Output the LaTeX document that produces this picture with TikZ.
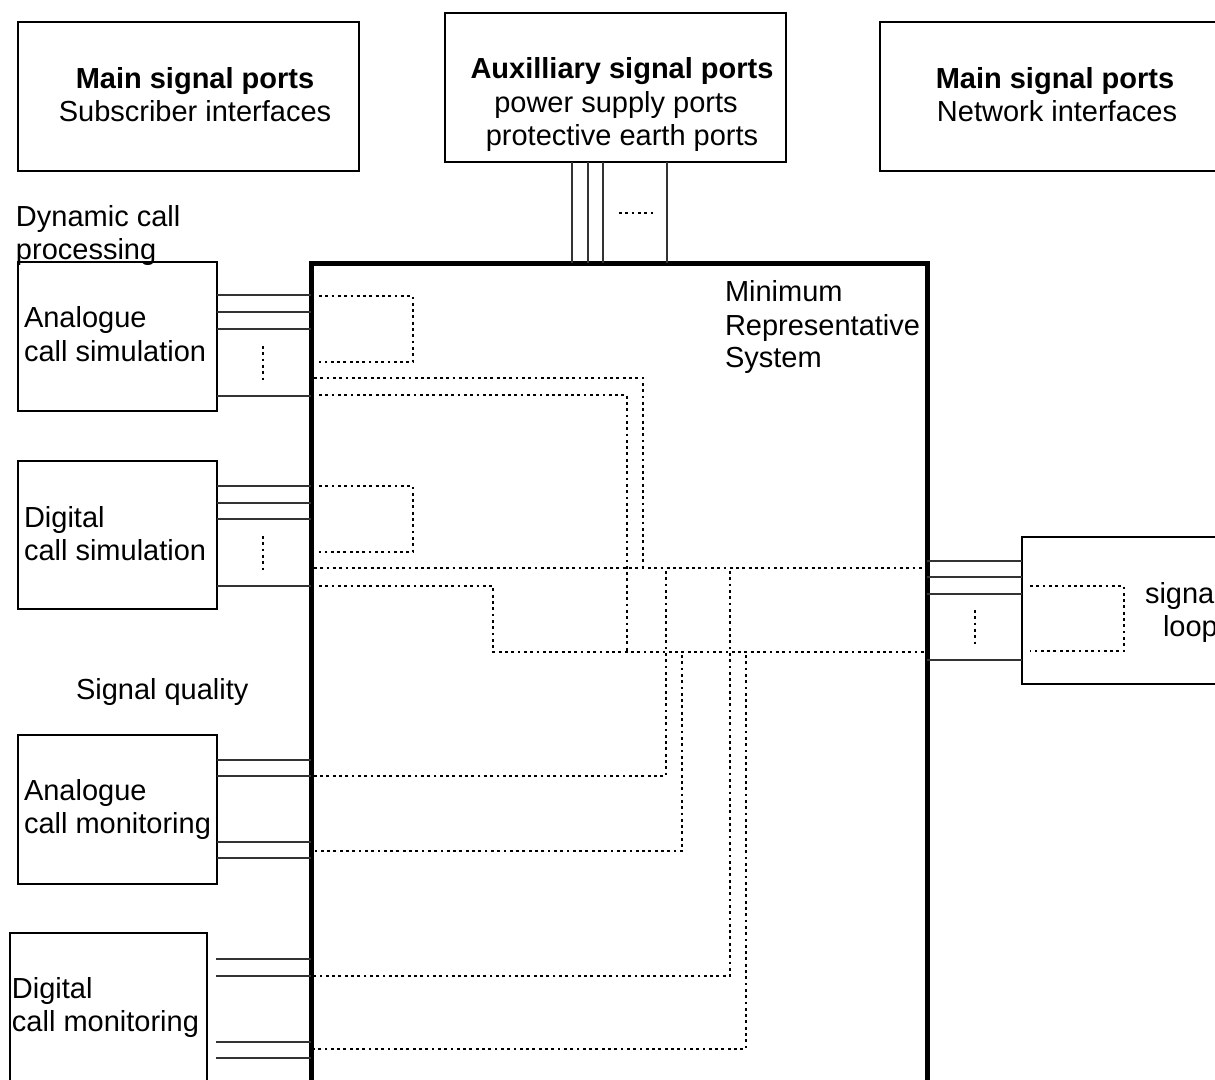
\documentclass[tikz,border=0pt]{standalone}
\usepackage{fontspec}
\setmainfont{Liberation Sans}
\begin{document}
\begin{tikzpicture}[x=1pt,y=-1pt,
  box/.style={draw, line width=1.2pt, inner sep=0pt, outer sep=0pt, anchor=north west},
  sysbox/.style={draw, line width=5pt, inner sep=0pt, outer sep=0pt, anchor=north west},
  txt/.style={inner sep=0pt, outer sep=0pt, font=\fontsize{29}{33}\selectfont},
  btxt/.style={txt, font=\fontsize{29}{33}\selectfont\bfseries},
  port/.style={line width=1.2pt, black!80},
  wire/.style={line width=2.8pt, dash pattern=on 2.8pt off 3.5pt}]
\useasboundingbox (0,0) rectangle (1215,1079);
\clip (0,0) rectangle (1215,1079);
\fill[white] (0,0) rectangle (1215,1079);

% boxes
\node[box, minimum width=341pt, minimum height=149pt] (subs) at (18,22) {};
\node[box, minimum width=341pt, minimum height=149pt] (aux) at (445,13) {};
\node[box, minimum width=341pt, minimum height=149pt] (net) at (880,22) {};
\node[sysbox, minimum width=616pt, minimum height=900pt] (mrs) at (311,263) {};
\node[box, minimum width=199pt, minimum height=149pt] (asim) at (18,262) {};
\node[box, minimum width=199pt, minimum height=148pt] (dsim) at (18,461) {};
\node[box, minimum width=199pt, minimum height=149pt] (amon) at (18,735) {};
\node[box, minimum width=197pt, minimum height=170pt] (dmon) at (10,933) {};
\node[box, minimum width=230pt, minimum height=147pt] (loopbox) at (1022,537) {};
\coordinate (dmonport) at (216,1000);

% texts
\node[btxt, anchor=base] (subs1) at (195,88) {Main signal ports};
\node[txt, anchor=base] (subs2) at (195,121) {Subscriber interfaces};
\node[btxt, anchor=base] (aux1) at (622,78) {Auxilliary signal ports};
\node[txt, anchor=base] (aux2) at (616,112) {power supply ports};
\node[txt, anchor=base] (aux3) at (622,145) {protective earth ports};
\node[btxt, anchor=base] (net1) at (1055,88) {Main signal ports};
\node[txt, anchor=base] (net2) at (1057,121) {Network interfaces};
\node[txt, anchor=base west] (dyn1) at (16,226) {Dynamic call};
\node[txt, anchor=base west] (dyn2) at (16,259) {processing};
\node[txt, anchor=base west] (asim1) at (24,327) {Analogue};
\node[txt, anchor=base west] (asim2) at (24,361) {call simulation};
\node[txt, anchor=base west] (dsim1) at (24,527) {Digital};
\node[txt, anchor=base west] (dsim2) at (24,560) {call simulation};
\node[txt, anchor=base west] (sq) at (76,699) {Signal quality};
\node[txt, anchor=base west] (amon1) at (24,800) {Analogue};
\node[txt, anchor=base west] (amon2) at (24,833) {call monitoring};
\node[txt, anchor=base west] (dmon1) at (12,998) {Digital};
\node[txt, anchor=base west] (dmon2) at (12,1031) {call monitoring};
\node[txt, anchor=base west] (mrs1) at (725,301) {Minimum};
\node[txt, anchor=base west] (mrs2) at (725,335) {Representative};
\node[txt, anchor=base west] (mrs3) at (725,367) {System};
\node[txt, anchor=base west] (loop1) at (1145,603) {signal};
\node[txt, anchor=base west] (loop2) at (1163,636) {loop};

% port lines: left side
\foreach \y in {295,312,329,396} \draw[port] (asim.east |- 0,\y) -- (mrs.west |- 0,\y);
\foreach \y in {486,503,519,586} \draw[port] (dsim.east |- 0,\y) -- (mrs.west |- 0,\y);
\foreach \y in {760,776,842,858} \draw[port] (amon.east |- 0,\y) -- (mrs.west |- 0,\y);
\foreach \y in {959,976,1042,1058} \draw[port] (dmonport |- 0,\y) -- (mrs.west |- 0,\y);
% port lines: right side
\foreach \y in {561,577,594,660} \draw[port] (mrs.east |- 0,\y) -- (loopbox.west |- 0,\y);
% port lines: top
\foreach \x in {572,588,603,667} \draw[port] (aux.south -| \x,0) -- (mrs.north -| \x,0);

% small "more ports" dots
\draw[wire] (619,213) -- (654,213);
\draw[wire] (263,346) -- (263,382);
\draw[wire] (263,536) -- (263,572);
\draw[wire] (975,610) -- (975,647);

% internal wiring of the system
\draw[wire] (319,296) -- (413,296) -- (413,362) -- (319,362);
\draw[wire] (314,378) -- (643,378) -- (643,568);
\draw[wire] (319,395) -- (627,395) -- (627,652);
\draw[wire] (319,486) -- (413,486) -- (413,552) -- (319,552);
\draw[wire] (314,568) -- (924,568);
\draw[wire] (319,586) -- (493,586) -- (493,652) -- (924,652);
\draw[wire] (666,571) -- (666,776) -- (314,776);
\draw[wire] (682,655) -- (682,851) -- (314,851);
\draw[wire] (730,571) -- (730,976) -- (314,976);
\draw[wire] (746,655) -- (746,1049) -- (314,1049);
\draw[wire] (1030,586) -- (1124,586) -- (1124,651) -- (1030,651);
\end{tikzpicture}
\end{document}
